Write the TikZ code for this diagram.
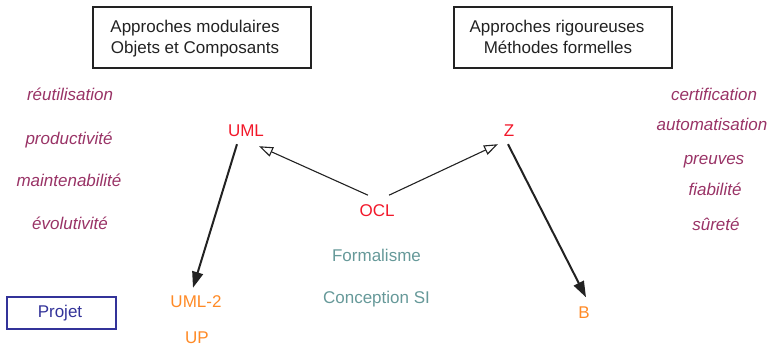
\documentclass[tikz,border=0pt]{standalone}
\usepackage{fontspec}
\setmainfont{Liberation Sans}
\usetikzlibrary{arrows.meta}
\definecolor{qual}{HTML}{993366}
\definecolor{lang}{HTML}{F2182A}
\definecolor{orng}{HTML}{FF8A26}
\definecolor{teal}{HTML}{669999}
\definecolor{proj}{HTML}{333399}
\definecolor{ink}{HTML}{222222}
\begin{document}
\begin{tikzpicture}[x=1pt,y=-1pt,
  every node/.style={font=\fontsize{17}{21}\selectfont, inner sep=0pt},
  txt/.style={anchor=base},
  qualnode/.style={txt, text=qual, font=\fontsize{17}{21}\selectfont\itshape},
  langnode/.style={txt, text=lang},
  implnode/.style={txt, text=orng},
  themenode/.style={txt, text=teal},
  headbox/.style={draw=ink, line width=1.2pt, minimum width=218pt, minimum height=61pt},
  headtext/.style={txt, text=ink},
  openarrow/.style={draw=ink, line width=1.1pt, -{Triangle[open, length=14pt, width=10pt]}},
  fullarrow/.style={draw=ink, line width=2pt, -{Triangle[length=16pt, width=11pt]}}
]
\useasboundingbox (0,0) rectangle (771,348);

% header boxes
\node[headbox] (box1) at (202,37.5) {};
\node[headtext] (t1a) at (195,32.3) {Approches modulaires};
\node[headtext] (t1b) at (195,53.3) {Objets et Composants};
\node[headbox] (box2) at (563,37.5) {};
\node[headtext] (t2a) at (557,32.3) {Approches rigoureuses};
\node[headtext] (t2b) at (558,53.3) {Méthodes formelles};

% left qualities
\node[qualnode] (q1) at (70,100.7) {réutilisation};
\node[qualnode] (q2) at (69,144) {productivité};
\node[qualnode] (q3) at (69,186) {maintenabilité};
\node[qualnode] (q4) at (70,229.3) {évolutivité};

% right qualities
\node[qualnode] (r1) at (714,100.7) {certification};
\node[qualnode] (r2) at (712,130.7) {automatisation};
\node[qualnode] (r3) at (714,164) {preuves};
\node[qualnode] (r4) at (715,195.7) {fiabilité};
\node[qualnode] (r5) at (716,230) {sûreté};

% languages
\node[langnode] (uml) at (246,136.7) {UML};
\node[langnode] (z) at (509,136.7) {Z};
\node[langnode] (ocl) at (377,216.2) {OCL};

\node[themenode] (form) at (376.5,261) {Formalisme};
\node[themenode] (csi) at (376.5,303.5) {Conception SI};

\node[implnode] (uml2) at (196,307.3) {UML-2};
\node[implnode] (up) at (197,343.3) {UP};
\node[implnode] (b) at (584,318.3) {B};

% project box
\node[draw=proj, line width=1.2pt, minimum width=109pt, minimum height=32pt] (pbox) at (61.5,313) {};
\node[txt, text=proj] (proj) at (60,317.5) {Projet};

% connectors
\draw[openarrow] ([shift={(-9,-21)}]ocl.base) -- ([shift={(13,9.5)}]uml.base);
\draw[openarrow] ([shift={(12,-21)}]ocl.base) -- ([shift={(-11,7.5)}]z.base);
\draw[fullarrow] ([shift={(-9,7.5)}]uml.base) -- ([shift={(-3,-19.5)}]uml2.base);
\draw[fullarrow] ([shift={(-1,7.5)}]z.base) -- ([shift={(2,-21)}]b.base);
\end{tikzpicture}
\end{document}
